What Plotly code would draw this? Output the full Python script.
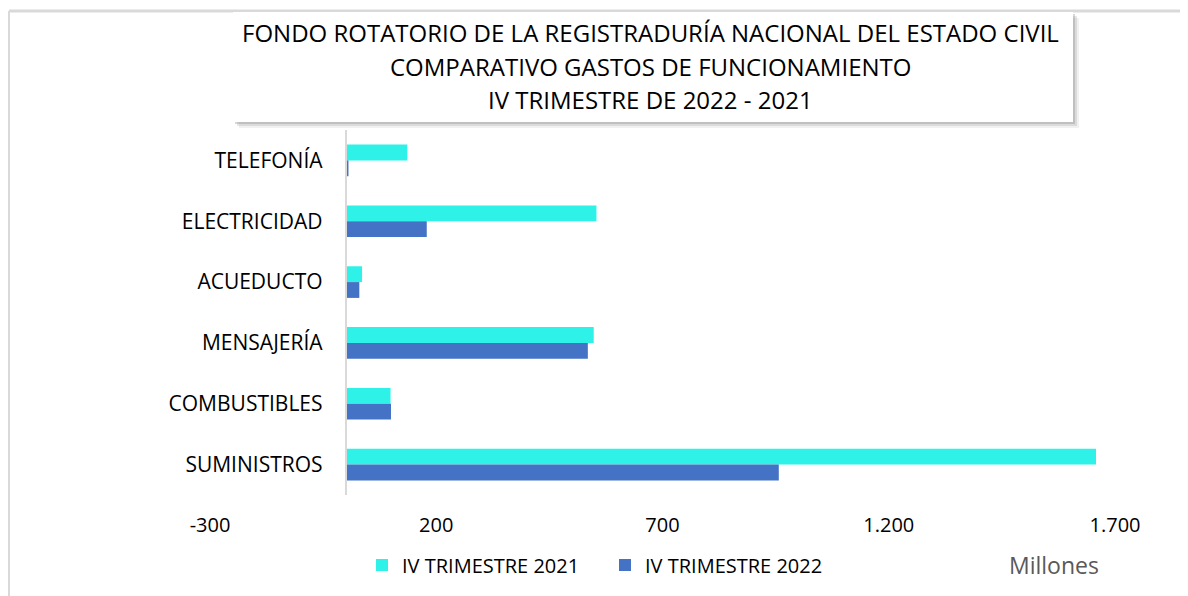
import plotly.graph_objects as go

# ---- data ----
categories = ["TELEFONÍA", "ELECTRICIDAD", "ACUEDUCTO", "MENSAJERÍA", "COMBUSTIBLES", "SUMINISTROS"]
trim_2021 = [136, 554, 36, 548, 99, 1658]
trim_2022 = [6, 179, 30, 535, 100, 957]
series_names = ["IV TRIMESTRE 2021", "IV TRIMESTRE 2022"]
tick_vals = [-300, 200, 700, 1200, 1700]
tick_labels = ["-300", "200", "700", "1.200", "1.700"]
title_lines = [
    "FONDO ROTATORIO DE LA REGISTRADURÍA NACIONAL DEL ESTADO CIVIL",
    "COMPARATIVO GASTOS DE FUNCIONAMIENTO",
    "IV TRIMESTRE DE 2022 - 2021",
]
units_label = "Millones"

# ---- layout geometry (pixels, page coordinates; figure sits at 8,8 in page) ----
OX, OY = 8, 8
W, H = 1180, 588
L, T = 202, 122
PW = 1107 - L
PH = 487 - T
R, B = W - L - PW, H - T - PH


def px(x):
    return (x - OX - L) / PW


def py(y):
    return (H - B - (y - OY)) / PH


FONT = "Open Sans, sans-serif"
C2021 = "#2EF2E8"
C2022 = "#4472C4"

fig = go.Figure()
fig.add_trace(go.Bar(y=categories, x=trim_2021, name=series_names[0], orientation="h",
                     marker=dict(color=C2021, line=dict(width=0))))
fig.add_trace(go.Bar(y=categories, x=trim_2022, name=series_names[1], orientation="h",
                     marker=dict(color=C2022, line=dict(width=0))))

zero_pos = (0 - tick_vals[0]) / (tick_vals[-1] - tick_vals[0])

fig.update_layout(
    width=W, height=H,
    margin=dict(l=L, r=R, t=T, b=B),
    paper_bgcolor="white", plot_bgcolor="white",
    barmode="group", bargap=0.48, bargroupgap=0,
    font=dict(family=FONT, color="#000000", size=20),
    xaxis=dict(range=[tick_vals[0], tick_vals[-1]], tickvals=tick_vals, ticktext=tick_labels,
               showgrid=False, zeroline=False, showline=False, ticks="",
               ticklabelstandoff=16, tickfont=dict(size=20, family=FONT), domain=[0, 1]),
    yaxis=dict(autorange="reversed", anchor="free", position=zero_pos,
               showgrid=False, zeroline=False, showline=True, linecolor="#D9D9D9", linewidth=2,
               ticks="", ticklabelstandoff=18, tickfont=dict(size=21, family=FONT)),
    legend=dict(orientation="h", x=px(362), y=py(565), xanchor="left", yanchor="middle",
                font=dict(size=20, family=FONT), itemwidth=30, traceorder="normal",
                entrywidth=198, entrywidthmode="pixels",
                bgcolor="rgba(0,0,0,0)"),
    showlegend=True,
)

shapes = []
# outer frame (left & top)
shapes.append(dict(type="line", xref="paper", yref="paper", x0=px(9), x1=px(9), y0=py(11), y1=py(600),
                   line=dict(color="#D9D9D9", width=2)))
shapes.append(dict(type="line", xref="paper", yref="paper", x0=px(9), x1=px(1190), y0=py(11), y1=py(11),
                   line=dict(color="#D9D9D9", width=3)))
# title box shadow
for off, op in [(6, 0.10), (4, 0.18), (2, 0.28)]:
    shapes.append(dict(type="rect", xref="paper", yref="paper",
                       x0=px(233 + off), x1=px(1073 + off), y0=py(12 + off), y1=py(122 + off),
                       fillcolor=f"rgba(120,120,120,{op})", line=dict(width=0), layer="above"))
shapes.append(dict(type="rect", xref="paper", yref="paper", x0=px(233), x1=px(1073), y0=py(12), y1=py(122),
                   fillcolor="white", line=dict(width=0), layer="above"))
fig.update_layout(shapes=shapes)

annotations = []
for yy, line in zip([32, 67, 100], title_lines):
    annotations.append(dict(text=line, xref="paper", yref="paper", x=px(650), y=py(yy),
                            xanchor="center", yanchor="middle", showarrow=False,
                            font=dict(size=24, family=FONT, color="#000000")))
annotations.append(dict(text=units_label, xref="paper", yref="paper", x=px(1054), y=py(565),
                        xanchor="center", yanchor="middle", showarrow=False,
                        font=dict(size=23, family=FONT, color="#595959")))
fig.update_layout(annotations=annotations)

fig.write_html("out.html")
